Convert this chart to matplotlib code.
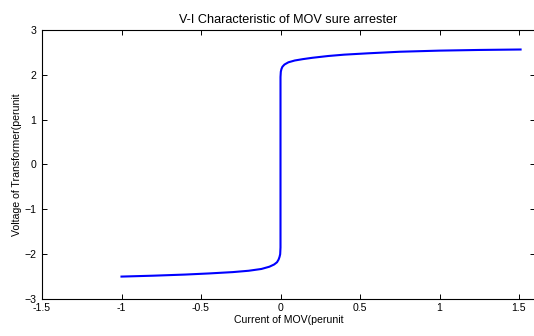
from matplotlib import pyplot as plt
import numpy as np

# V-I points (current, voltage), perunit.
current = [-1.0, -0.8, -0.6, -0.45, -0.3, -0.2, -0.12, -0.07, -0.04, -0.022,
           -0.012, -0.006, -0.002, 0.0, 0.0, 0.002, 0.006, 0.012, 0.025,
           0.05, 0.09, 0.14, 0.2, 0.3, 0.4, 0.55, 0.75, 1.0, 1.25, 1.51]
voltage = [-2.50, -2.48, -2.455, -2.43, -2.40, -2.37, -2.33, -2.28, -2.23,
           -2.18, -2.12, -2.06, -2.0, -1.85, 1.95, 2.07, 2.13, 2.18, 2.23,
           2.28, 2.32, 2.35, 2.38, 2.42, 2.45, 2.48, 2.515, 2.54, 2.555, 2.565]

x_ticks = [-1.5, -1, -0.5, 0, 0.5, 1, 1.5]
x_tick_labels = ['-1.5', '-1', '-0.5', '0', '0.5', '1', '1.5']
y_ticks = [-3, -2, -1, 0, 1, 2, 3]

title = 'V-I Characteristic of MOV sure arrester'
x_label = 'Current of MOV(perunit'
y_label = 'Voltage of Transformer(perunit'

plt.rcParams['font.family'] = ['Liberation Sans', 'DejaVu Sans']
plt.rcParams['font.size'] = 7.6

fig = plt.figure(figsize = (5.34, 3.36), dpi = 100)

# Axes box in pixels: left 42, right ~535 (clipped), top 30, bottom 299.
W, H = 534, 336
ax = fig.add_axes([42 / W, (H - 299) / H, (535 - 42) / W, (299 - 30) / H])

ax.plot(current, voltage, color = (0, 0, 1), linewidth = 1.5)

ax.set_xlim(-1.5, 1.5 + 16 / 159)
ax.set_ylim(-3, 3)
ax.set_xticks(x_ticks)
ax.set_xticklabels(x_tick_labels)
ax.set_yticks(y_ticks)

ax.tick_params(direction = 'in', length = 3.5, width = 0.7,
    top = True, right = True, colors = 'black')
ax.tick_params(axis = 'x', pad = 3)
ax.tick_params(axis = 'y', pad = 4)
for spine in ax.spines.values():
    spine.set_linewidth(0.8)

ax.set_title(title, pad = 5)
ax.set_xlabel(x_label, labelpad = 1)
ax.set_ylabel(y_label, labelpad = 2)

plt.savefig('out.png', dpi = 100)
